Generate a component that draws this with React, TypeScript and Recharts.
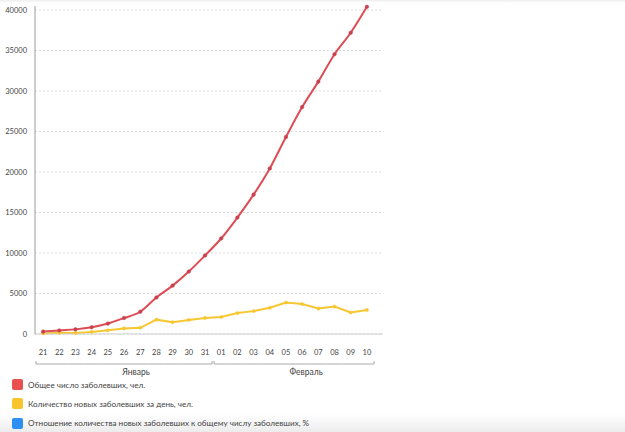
import React from 'react'
import { LineChart, Line, XAxis, YAxis, CartesianGrid } from 'recharts'

const days = ['21', '22', '23', '24', '25', '26', '27', '28', '29', '30', '31', '01', '02', '03', '04', '05', '06', '07', '08', '09', '10']
const months = ['Январь', 'Январь', 'Январь', 'Январь', 'Январь', 'Январь', 'Январь', 'Январь', 'Январь', 'Январь', 'Январь',
  'Февраль', 'Февраль', 'Февраль', 'Февраль', 'Февраль', 'Февраль', 'Февраль', 'Февраль', 'Февраль', 'Февраль']
const totalCases = [291, 440, 571, 830, 1287, 1975, 2744, 4515, 5974, 7711, 9692, 11791, 14380, 17205, 20438, 24324, 28018, 31161, 34546, 37198, 40400]
const newCases = [77, 149, 131, 259, 457, 688, 769, 1771, 1459, 1737, 1981, 2099, 2589, 2825, 3233, 3886, 3694, 3143, 3385, 2652, 2973]
const yTicks = [0, 5000, 10000, 15000, 20000, 25000, 30000, 35000, 40000]

const legendItems = [
  { label: 'Общее число заболевших, чел.', color: '#e8504f' },
  { label: 'Количество новых заболевших за день, чел.', color: '#f9c52c' },
  { label: 'Отношение количества новых заболевших к общему числу заболевших, %', color: '#2d8ff2' },
]

const data = days.map((day, i) => ({ day, month: months[i], total: totalCases[i], daily: newCases[i] }))

const WIDTH = 625
const LEFT = 35
const RIGHT_PAD = 8
const PLOT_RIGHT = 383
const BAND = (PLOT_RIGHT - RIGHT_PAD - LEFT) / days.length
const FONT = 'Lato, "Open Sans", sans-serif'

const DayTick = (props: any) => {
  const { x, y, payload } = props
  const i = payload.index
  const m = months[i]
  const first = i === 0 || months[i - 1] !== m
  const last = i === months.length - 1 || months[i + 1] !== m
  const by = y + 22
  const x1 = x - BAND / 2 + (first ? 1 : 0)
  const x2 = x + BAND / 2 - (last ? 1 : 0)
  const n = months.filter((mm) => mm === m).length
  return (
    <g>
      <text x={x} y={y + 13} textAnchor="middle" fontSize={7.5} fill="#444" fontFamily={FONT}>{payload.value}</text>
      <line x1={x1} x2={x2} y1={by} y2={by} stroke="#aaa" strokeWidth={1} />
      {first && <line x1={x1} x2={x1} y1={by} y2={by - 3} stroke="#aaa" strokeWidth={1} />}
      {last && <line x1={x2} x2={x2} y1={by} y2={by - 3} stroke="#aaa" strokeWidth={1} />}
      {first && (
        <text x={x + ((n - 1) / 2) * BAND + 12} y={by + 11} textAnchor="middle" fontSize={8.5} fill="#444" fontFamily={FONT}>{m}</text>
      )}
    </g>
  )
}

export default function App() {
  return (
    <div style={{ position: 'absolute', left: 0, top: 0, width: WIDTH, height: 432, background: '#fff', overflow: 'hidden', fontFamily: FONT }}>
      <div style={{ position: 'absolute', left: 0, right: 0, top: 414, height: 18, background: 'linear-gradient(#ffffff, #ececec)' }} />
      <div style={{ position: 'absolute', left: 0, right: 0, top: 0, height: 3, background: 'linear-gradient(#eeeeee, #ffffff)' }} />
      <LineChart width={WIDTH} height={380} data={data} margin={{ top: 6, right: WIDTH - PLOT_RIGHT, left: 0, bottom: 0 }}>
        <CartesianGrid vertical={false} stroke="#dcdcdc" strokeDasharray="2 2" horizontalValues={yTicks} />
        <XAxis
          dataKey="day"
          height={46}
          padding={{ left: BAND / 2, right: RIGHT_PAD + BAND / 2 }}
          axisLine={{ stroke: '#cfcfcf' }}
          tickLine={false}
          interval={0}
          tick={<DayTick />}
        />
        <YAxis
          width={LEFT}
          domain={[0, 40500]}
          ticks={yTicks}
          interval={0}
          axisLine={{ stroke: '#9a9a9a' }}
          tickLine={false}
          tickMargin={2}
          tick={{ fontSize: 7.5, fill: '#444', fontFamily: FONT }}
        />
        <Line
          type="linear"
          dataKey="daily"
          stroke="#f7c731"
          strokeWidth={2}
          dot={{ r: 1.6, fill: '#f7c731', stroke: '#f7c731', strokeWidth: 0.5 }}
          isAnimationActive={false}
        />
        <Line
          type="monotone"
          dataKey="total"
          stroke="#dd4d55"
          strokeWidth={2}
          dot={{ r: 1.8, fill: '#c9414c', stroke: '#c9414c', strokeWidth: 0.5 }}
          isAnimationActive={false}
        />
      </LineChart>
      <div style={{ position: 'absolute', left: 12, top: 375 }}>
        {legendItems.map((item) => (
          <div key={item.label} style={{ display: 'flex', alignItems: 'center', height: 19.3 }}>
            <div style={{ width: 11, height: 11, borderRadius: 2, background: item.color, marginRight: 5 }} />
            <span style={{ fontSize: 8.1, color: '#444' }}>{item.label}</span>
          </div>
        ))}
      </div>
    </div>
  )
}
